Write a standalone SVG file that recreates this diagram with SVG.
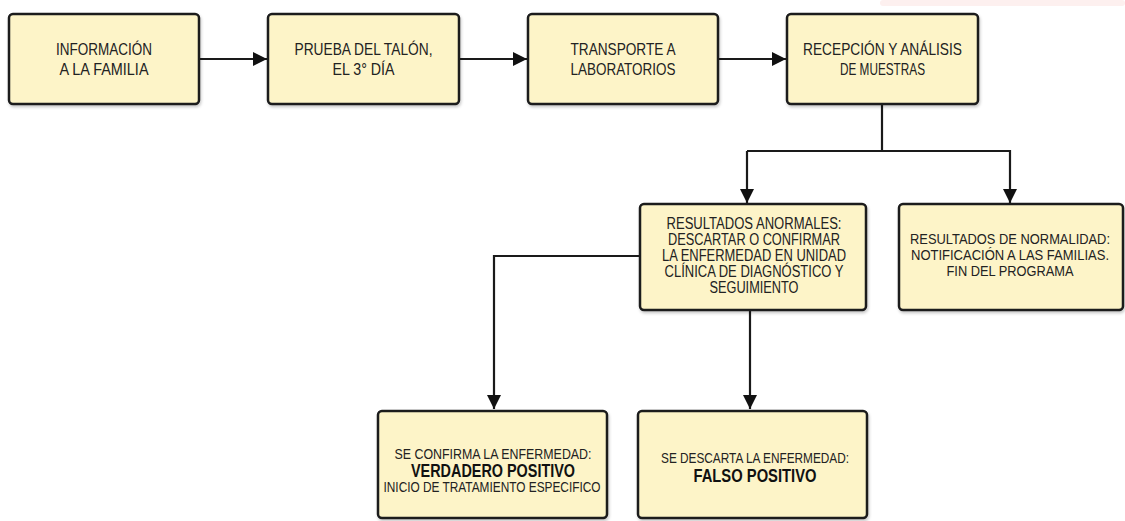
<svg xmlns="http://www.w3.org/2000/svg" width="1125" height="521" viewBox="0 0 1125 521">
<style>
.box{fill:#fdf4c8;stroke:#1a1a1a;stroke-width:2.5;filter:url(#sh)}
.t{font-family:"Liberation Sans Narrow","Liberation Sans",Arial,sans-serif;fill:#222;text-anchor:middle}
.top{font-size:17px}
.mid{font-size:16px}
.mid2{font-size:15.5px}
.sm{font-size:14.5px}
.b{font-family:"Liberation Sans Narrow","Liberation Sans",Arial,sans-serif;font-weight:bold;fill:#111;text-anchor:middle;font-size:19px}
.c{fill:none;stroke:#1a1a1a;stroke-width:2.2}
</style>
<defs>
<filter id="sh" x="-5%" y="-5%" width="112%" height="120%">
<feDropShadow dx="1" dy="2" stdDeviation="1.5" flood-color="#000" flood-opacity="0.22"/>
</filter>
<marker id="ah" viewBox="0 0 14 14" refX="14" refY="7" markerWidth="14" markerHeight="14" markerUnits="userSpaceOnUse" orient="auto">
<path d="M0,0 L14,7 L0,14 Z" fill="#111"/>
</marker>
</defs>
<rect x="880" y="0" width="245" height="6" rx="3" fill="#fdf0ef"/>
<g id="connectors">
<path class="c" d="M199,59 H267" marker-end="url(#ah)"/>
<path class="c" d="M459,59 H527" marker-end="url(#ah)"/>
<path class="c" d="M718,59 H786" marker-end="url(#ah)"/>
<path class="c" d="M882,104 V151"/>
<path class="c" d="M747,151 H1010 V203" marker-end="url(#ah)"/>
<path class="c" d="M747,151 V203" marker-end="url(#ah)"/>
<path class="c" d="M640,256 H494 V409" marker-end="url(#ah)"/>
<path class="c" d="M750,310 V409" marker-end="url(#ah)"/>
</g>
<g id="n1">
<rect class="box" x="9" y="14" width="190" height="90" rx="4"/>
<text class="t top" x="104" y="55" textLength="96" lengthAdjust="spacingAndGlyphs">INFORMACIÓN</text>
<text class="t top" x="104" y="75" textLength="89" lengthAdjust="spacingAndGlyphs">A LA FAMILIA</text>
</g>
<g id="n2">
<rect class="box" x="268" y="14" width="191" height="90" rx="4"/>
<text class="t top" x="363.5" y="55" textLength="138" lengthAdjust="spacingAndGlyphs">PRUEBA DEL TALÓN,</text>
<text class="t top" x="363.5" y="75" textLength="62" lengthAdjust="spacingAndGlyphs">EL 3° DÍA</text>
</g>
<g id="n3">
<rect class="box" x="528" y="14" width="190" height="90" rx="4"/>
<text class="t top" x="623" y="55" textLength="105" lengthAdjust="spacingAndGlyphs">TRANSPORTE A</text>
<text class="t top" x="623" y="75" textLength="105" lengthAdjust="spacingAndGlyphs">LABORATORIOS</text>
</g>
<g id="n4">
<rect class="box" x="787" y="14" width="191" height="90" rx="4"/>
<text class="t top" x="882.5" y="55" textLength="159" lengthAdjust="spacingAndGlyphs">RECEPCIÓN Y ANÁLISIS</text>
<text class="t top" x="882.5" y="75" textLength="85" lengthAdjust="spacingAndGlyphs">DE MUESTRAS</text>
</g>
<g id="n5">
<rect class="box" x="640" y="204" width="226" height="106" rx="4"/>
<text class="t mid" x="754" y="229" textLength="175" lengthAdjust="spacingAndGlyphs">RESULTADOS ANORMALES:</text>
<text class="t mid" x="754" y="245" textLength="172" lengthAdjust="spacingAndGlyphs">DESCARTAR O CONFIRMAR</text>
<text class="t mid" x="754" y="261" textLength="184" lengthAdjust="spacingAndGlyphs">LA ENFERMEDAD EN UNIDAD</text>
<text class="t mid" x="754" y="277" textLength="179" lengthAdjust="spacingAndGlyphs">CLÍNICA DE DIAGNÓSTICO Y</text>
<text class="t mid" x="754" y="293" textLength="89" lengthAdjust="spacingAndGlyphs">SEGUIMIENTO</text>
</g>
<g id="n6">
<rect class="box" x="899" y="204" width="224" height="106" rx="4"/>
<text class="t mid2" x="1010" y="244" textLength="200" lengthAdjust="spacingAndGlyphs">RESULTADOS DE NORMALIDAD:</text>
<text class="t mid2" x="1010" y="260" textLength="198" lengthAdjust="spacingAndGlyphs">NOTIFICACIÓN A LAS FAMILIAS.</text>
<text class="t mid2" x="1010" y="276" textLength="127" lengthAdjust="spacingAndGlyphs">FIN DEL PROGRAMA</text>
</g>
<g id="n7">
<rect class="box" x="378" y="411" width="229" height="107" rx="4"/>
<text class="t sm" x="493" y="459" textLength="197" lengthAdjust="spacingAndGlyphs">SE CONFIRMA LA ENFERMEDAD:</text>
<text class="b" x="493" y="477" textLength="164" lengthAdjust="spacingAndGlyphs">VERDADERO POSITIVO</text>
<text class="t sm" x="492" y="492" textLength="217" lengthAdjust="spacingAndGlyphs">INICIO DE TRATAMIENTO ESPECIFICO</text>
</g>
<g id="n8">
<rect class="box" x="638" y="411" width="229" height="107" rx="4"/>
<text class="t sm" x="755" y="463" textLength="188" lengthAdjust="spacingAndGlyphs">SE DESCARTA LA ENFERMEDAD:</text>
<text class="b" x="755" y="482" textLength="123" lengthAdjust="spacingAndGlyphs">FALSO POSITIVO</text>
</g>
</svg>
